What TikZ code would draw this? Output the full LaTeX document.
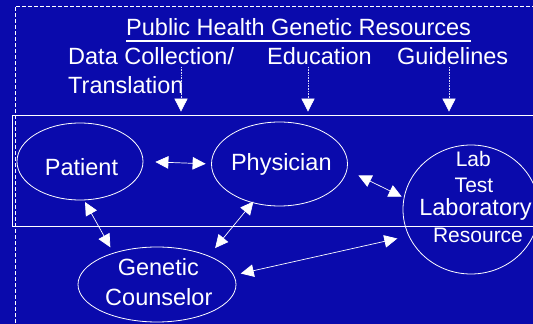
\documentclass[tikz,border=0pt]{standalone}
\usepackage{fontspec}
\setmainfont{Liberation Sans}
\usetikzlibrary{arrows.meta,shapes.geometric}
\definecolor{slideblue}{RGB}{10,10,172}
\definecolor{rimgrey}{RGB}{215,215,245}

\begin{document}
\begin{tikzpicture}[x=1pt, y=1pt,
  every node/.style = {text=white, inner sep=0pt},
  big/.style = {font=\fontsize{23.5}{28}\selectfont},
  small/.style = {font=\fontsize{21}{25}\selectfont},
  role/.style = {draw=white, line width=0.8pt, ellipse},
  link/.style = {{Triangle[length=13pt,width=12.5pt]}-{Triangle[length=13pt,width=12.5pt]}, draw=white, line width=0.7pt},
  feed/.style = {-{Triangle[length=13pt,width=13pt,color=white]}, draw=rimgrey, densely dotted, line width=0.6pt}]
\fill[slideblue] (0,0) rectangle (533,324);
\clip (0,0) rectangle (533,324);
\useasboundingbox (0,0) rectangle (533,324);

% frame of the resources block
\draw [white, line width=0.7pt, dash pattern=on 4pt off 2pt] (15,-5) -- (15,318) -- (545,318);
\node (care) [draw=white, line width=0.7pt, minimum width=533pt, minimum height=111pt] at (278.5,153.5) {};

% headings
\node (title) [big, anchor=base west] at (126,288) {Public Health Genetic Resources};
\draw [white, line width=1.3pt] ([yshift=-5pt]title.base west) -- ([yshift=-5pt]title.base east);
\node (data)  [big, anchor=base west] at (68,259) {Data Collection/};
\node (trans) [big, anchor=base west] at (68,230) {Translation};
\node (edu)   [big, anchor=base west] at (267,259) {Education};
\node (guide) [big, anchor=base west] at (397,259) {Guidelines};

\coordinate (datain)  at (181,257);
\coordinate (eduin)   at (308,257);
\coordinate (guidein) at (449,257);
\draw [feed, shorten >=3pt] (datain)  -- (datain |- care.north);
\draw [feed, shorten >=3pt] (eduin)   -- (eduin |- care.north);
\draw [feed, shorten >=3pt] (guidein) -- (guidein |- care.north);

% the four parties
\node (pat)  [role, minimum width=126pt, minimum height=77pt]  at (80,162.5) {};
\node (phys) [role, minimum width=136pt, minimum height=84pt]  at (279.5,160) {};
\node (lab)  [role, minimum width=136pt, minimum height=129pt] at (471,114.5) {};
\node (gc)   [role, minimum width=158pt, minimum height=75pt]  at (157,39.5) {};

\node (patt)  [big, anchor=base] at (81.5,148) {Patient};
\node (physt) [big, anchor=base] at (281.3,153) {Physician};
\node (labt)  [small, anchor=base] at (473.3,157) {Lab};
\node (testt) [small, anchor=base] at (474,131) {Test};
\node (labyt) [big, anchor=base] at (475.5,108) {Laboratory};
\node (rest)  [small, anchor=base] at (478,81) {Resource};
\node (gent)  [big, anchor=base] at (158.3,48) {Genetic};
\node (cout)  [big, anchor=base] at (158.8,18) {Counselor};

\draw [link, shorten <=12pt, shorten >=5.5pt] (pat.east) -- (phys.west);
\draw [link, shorten <=12.5pt, shorten >=2.3pt] (phys.-5.6) -- (lab.170);
\draw [link, shorten <=2pt, shorten >=6.3pt] (pat.-84) -- (gc.144);
\draw [link, shorten <=-1.8pt, shorten >=10pt] (phys.-125.5) -- (gc.29);
\draw [link, shorten <=7pt, shorten >=11.5pt] (gc.7.3) -- (lab.203);
\end{tikzpicture}
\end{document}
